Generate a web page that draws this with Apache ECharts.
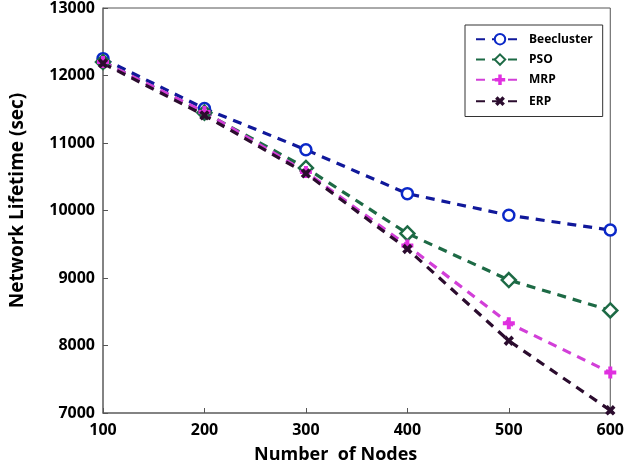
<!DOCTYPE html>
<html><head><meta charset="utf-8">
<script src="https://cdn.jsdelivr.net/npm/echarts@6/dist/echarts.min.js"></script>
<style>html,body{margin:0;padding:0;background:#fff}#c{width:627px;height:469px}</style>
</head><body><div id="c"></div>
<script>
const nodes = [100, 200, 300, 400, 500, 600];
const beecluster = [12250, 11510, 10900, 10250, 9930, 9710];
const pso = [12200, 11450, 10630, 9660, 8970, 8520];
const mrp = [12200, 11460, 10570, 9480, 8330, 7600];
const erp = [12180, 11410, 10550, 9430, 8070, 7040];
const yTicks = [7000, 8000, 9000, 10000, 11000, 12000, 13000];

const plus = 'path://M-1,-3L1,-3L1,-1L3,-1L3,1L1,1L1,3L-1,3L-1,1L-3,1L-3,-1L-1,-1Z';
function pts(arr){ return nodes.map((n,i)=>[n, arr[i]]); }
const font = 'Open Sans';
function mk(name, data, color, symbol, size, rot, empty, mcolor){
  return {
    name, type:'line', data: pts(data), symbol, symbolSize: size, symbolRotate: rot||0,
    lineStyle:{color, width:3.2, type:[9,7]},
    itemStyle:{color: empty ? '#fff' : (mcolor||color), borderColor: mcolor||color, borderWidth: empty?2.5:0},
    z: 2
  };
}
const chart = echarts.init(document.getElementById('c'));
chart.setOption({
  animation:false,
  backgroundColor:'#fff',
  grid:{left:99, right:15, top:8, bottom:56, show:true, borderColor:'#555', borderWidth:1, backgroundColor:'transparent'},
  xAxis:{type:'value', min:100, max:600, interval:100,
    name:'Number  of Nodes', nameLocation:'middle', nameGap:33,
    nameTextStyle:{fontFamily:font, fontWeight:'bold', fontSize:18, color:'#000', padding:[0,42,0,0]},
    axisLine:{lineStyle:{color:'#777', width:1.5}},
    axisTick:{inside:true, length:5, lineStyle:{color:'#555'}},
    axisLabel:{fontFamily:font, fontWeight:'bold', fontSize:16, color:'#000', margin:9},
    splitLine:{show:false}},
  yAxis:{type:'value', min:7000, max:13000, interval:1000,
    name:'Network Lifetime (sec)', nameLocation:'middle', nameGap:76,
    nameTextStyle:{fontFamily:font, fontWeight:'bold', fontSize:19, color:'#000', padding:[0,0,0,20]},
    axisLine:{show:true, lineStyle:{color:'#777', width:1.5}},
    axisTick:{show:true, inside:true, length:5, lineStyle:{color:'#555'}},
    axisLabel:{fontFamily:font, fontWeight:'bold', fontSize:16, color:'#000', margin:8,
      formatter: v => yTicks.includes(v) ? String(v) : ''},
    splitLine:{show:false}},
  legend:{orient:'vertical', left:465, top:25, width:137,
    padding:[8,10,8,10], itemGap:8, itemWidth:48, itemHeight:13,
    borderColor:'#333', borderWidth:1, backgroundColor:'#fff',
    textStyle:{fontFamily:font, fontWeight:'bold', fontSize:12, color:'#000'},
    data:['Beecluster','PSO','MRP','ERP']},
  series:[
    mk('Beecluster', beecluster, '#10189a', 'circle', 11, 0, true, '#0a28c8'),
    mk('PSO', pso, '#1d6a45', 'diamond', 14, 0, true, '#1d6a45'),
    mk('MRP', mrp, '#d23fd8', plus, 12, 0, false, '#e030e0'),
    mk('ERP', erp, '#2b0c2e', plus, 11, 45, false, '#2b0c2e')
  ]
});
</script></body></html>
